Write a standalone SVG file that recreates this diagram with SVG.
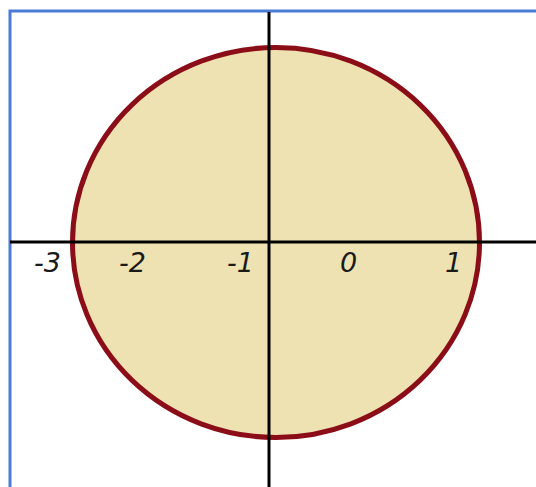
<svg xmlns="http://www.w3.org/2000/svg" width="536" height="487" viewBox="0 0 536 487">
<style>
.axis{stroke:#000;stroke-width:3;fill:none}
.frame{stroke:#4a7bd6;stroke-width:3;fill:none}
.lbl{font-family:"DejaVu Sans","Liberation Sans",sans-serif;font-style:italic;font-size:27px;fill:#1a1a1a}
</style>
<rect width="536" height="487" fill="#ffffff"/>
<path class="frame" d="M10,487 V11 H536"/>
<g id="circle">
<ellipse cx="276" cy="242.5" rx="203.5" ry="195" fill="#efe2b2" stroke="#8b0d18" stroke-width="5"/>
</g>
<g id="axes">
<line class="axis" x1="10" y1="242" x2="536" y2="242"/>
<line class="axis" x1="269" y1="12" x2="269" y2="487"/>
</g>
<g id="labels">
<text class="lbl" x="34" y="272">-3</text>
<text class="lbl" x="119" y="272">-2</text>
<text class="lbl" x="227" y="272">-1</text>
<text class="lbl" x="340" y="272">0</text>
<text class="lbl" x="445" y="272">1</text>
</g>
</svg>
